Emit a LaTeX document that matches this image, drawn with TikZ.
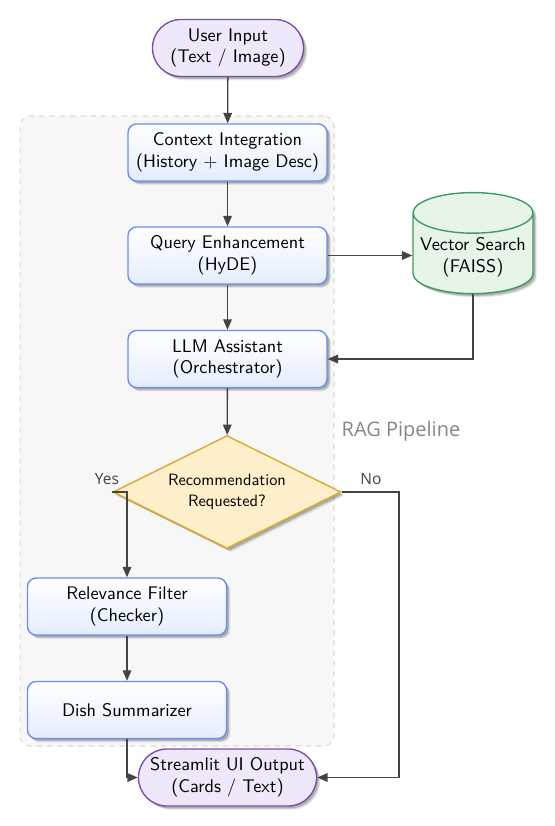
\documentclass[tikz,border=0pt]{standalone}
\usepackage{fontspec}
\newfontfamily\lblfont{Open Sans}
\usetikzlibrary{shapes.geometric,shapes.misc,shadows,arrows.meta,calc}
\definecolor{boxborder}{HTML}{6C8CF2}
\definecolor{boxfill}{HTML}{E4EDFF}
\definecolor{termborder}{HTML}{7B4FA6}
\definecolor{termfill}{HTML}{EFE8FA}
\definecolor{decborder}{HTML}{D8A92A}
\definecolor{decfill}{HTML}{FCEFC9}
\definecolor{dbborder}{HTML}{3E9A62}
\definecolor{dbfill}{HTML}{E7F5E9}
\definecolor{grpfill}{HTML}{F7F7F7}
\definecolor{grpborder}{HTML}{DADADA}
\definecolor{edgecol}{HTML}{444444}
\begin{document}
\begin{tikzpicture}[x=0.58pt,y=-0.58pt,font=\sffamily\fontsize{10.6}{12.6}\selectfont,
  shade/.style={
    drop shadow={shadow xshift=2.2pt,shadow yshift=-2.2pt,opacity=0.08,fill=black},
    drop shadow={shadow xshift=1.7pt,shadow yshift=-1.7pt,opacity=0.12,fill=black},
    drop shadow={shadow xshift=1.2pt,shadow yshift=-1.2pt,opacity=0.15,fill=black}},
  procbox/.style={shade,draw=boxborder,line width=0.8pt,rounded corners=5pt,top color=white,bottom color=boxfill,
    minimum width=115.4pt,minimum height=33.1pt,align=center,inner sep=2pt},
  term/.style={shade,draw=termborder,line width=0.8pt,rounded rectangle,fill=termfill,
    minimum height=33.1pt,align=center,inner sep=2pt},
  decision/.style={shade,draw=decborder,line width=0.8pt,diamond,aspect=2.02,fill=decfill,
    minimum width=132.2pt,minimum height=65.5pt,inner sep=0pt,align=center,
    font=\sffamily\fontsize{9.5}{11.8}\selectfont},
  db/.style={shade,draw=dbborder,line width=0.8pt,cylinder,shape border rotate=90,aspect=0.36,fill=dbfill,
    minimum width=69.6pt,minimum height=49pt,align=center,inner sep=2pt},
  conn/.style={draw=edgecol,line width=0.75pt,-{Triangle[length=6pt,width=5pt]}},
  lbl/.style={font=\lblfont\small,text=edgecol},
]
\useasboundingbox (0,0) rectangle (554,826);
% group background
\node[draw=grpborder,dashed,fill=grpfill,rounded corners=6pt,line width=0.6pt,
  minimum width=182.1pt,minimum height=365.4pt,inner sep=0pt] (grp) at (177,431) {};
\node[font=\lblfont\fontsize{11.6}{14}\selectfont,text=gray!95] (raglbl) at (401,431) {RAG Pipeline};

\node[term,minimum width=91.6pt] (user) at (228,48) {User Input\\(Text / Image)};
\node[procbox] (ctx) at (227.5,152.5) {Context Integration\\(History + Image Desc)};
\node[procbox] (query) at (227.5,255.5) {Query Enhancement\\(HyDE)};
\node[db] (vs) at (473,257) {Vector Search\\(FAISS)};
\node[procbox] (llm) at (227.5,359) {LLM Assistant\\(Orchestrator)};
\node[decision] (dec) at (227,492) {Recommendation\\Requested?};
\node[procbox] (rel) at (127,606.5) {Relevance Filter\\(Checker)};
\node[procbox] (dish) at (127,710) {Dish Summarizer};
\node[term,minimum width=107.3pt] (ui) at (227.5,777.5) {Streamlit UI Output\\(Cards / Text)};

\draw[conn] (user) -- (ctx);
\draw[conn] (ctx) -- (query);
\draw[conn] (query) -- (llm);
\draw[conn] (query.east) -- (query.east -| vs.west);
\draw[conn] (vs.south) |- (llm.east);
\draw[conn] (llm) -- (dec);
\draw[conn] (dec.west) -| (rel.north);
\coordinate (nocorner) at (399,492);
\draw[conn] (dec.east) -- (nocorner) |- (ui.east);
\draw[conn] (rel) -- (dish);
\draw[conn] (dish.south) |- (ui.west);
\node[lbl] (yes) at (107,479) {Yes};
\node[lbl] (no) at (371,479) {No};
\end{tikzpicture}
\end{document}
